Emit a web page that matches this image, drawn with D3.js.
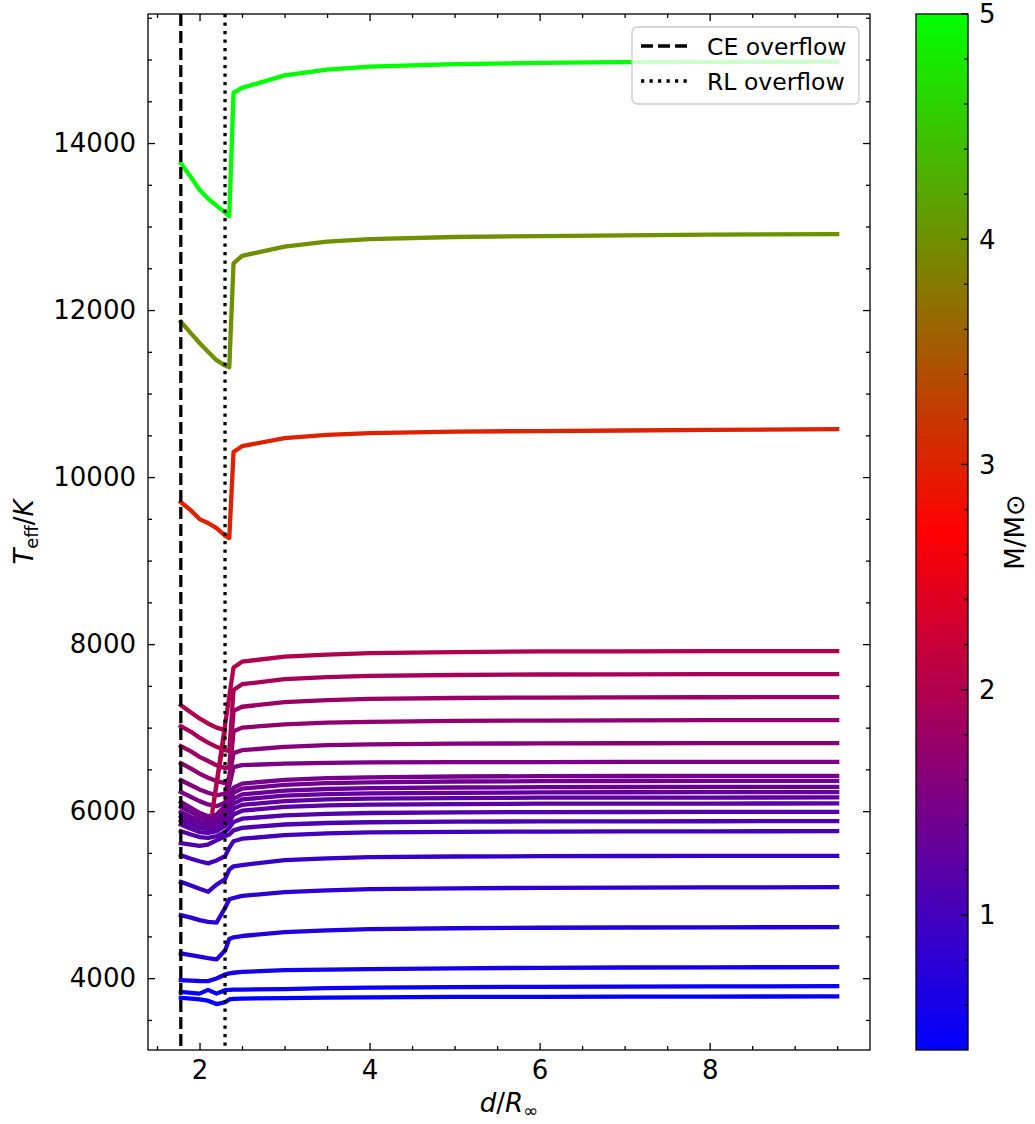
<!DOCTYPE html>
<html lang="en">
<head>
  <meta charset="UTF-8">
  <style>
    body { margin: 0; background: #fff; }
    svg { display: block; }
    text { font-family: "DejaVu Sans", sans-serif; fill: #000; }
    .axis path { display: none; }
    .axis line { stroke: #000; stroke-width: 1.3; }
  </style>
  <script src="https://d3js.org/d3.v7.min.js"></script>
</head>
<body>
<svg id="chart"></svg>
<script>
  // separation grid (d / R_inf) shared by most curves
  const dGrid = [1.78, 1.9, 2.0, 2.1, 2.2, 2.3, 2.35, 2.4, 2.5, 3.0, 3.5, 4.0, 5.0, 6.0, 7.0, 8.0, 9.5];
  // the 2.0 Msun curve has a point that steps back in d
  const dGridM2 = [1.78, 1.9, 2.0, 2.1, 2.2, 2.3, 2.15, 2.4, 2.5, 3.0, 3.5, 4.0, 5.0, 6.0, 7.0, 8.0, 9.5];

  const masses = [0.4, 0.5, 0.6, 0.7, 0.8, 0.9, 1.0, 1.1, 1.15, 1.2, 1.25, 1.3, 1.35, 1.4, 1.45,
                  1.5, 1.6, 1.7, 1.8, 1.9, 2.0, 3.0, 4.0, 5.0];

  const teff = [
    [3764, 3755, 3745, 3730, 3690, 3712, 3745, 3752, 3756, 3762, 3768, 3771, 3775, 3777, 3779, 3780, 3781],
    [3836, 3825, 3815, 3860, 3815, 3856, 3860, 3862, 3864, 3870, 3880, 3886, 3893, 3897, 3900, 3902, 3904],
    [3976, 3970, 3966, 3965, 3996, 4044, 4058, 4065, 4075, 4096, 4103, 4108, 4118, 4124, 4128, 4130, 4132],
    [4296, 4275, 4258, 4240, 4225, 4330, 4470, 4490, 4505, 4551, 4572, 4587, 4598, 4604, 4607, 4609, 4611],
    [4754, 4725, 4695, 4675, 4665, 4840, 4945, 4960, 4985, 5030, 5052, 5066, 5076, 5082, 5085, 5087, 5090],
    [5153, 5110, 5070, 5034, 5120, 5185, 5300, 5340, 5355, 5413, 5435, 5449, 5457, 5461, 5463, 5464, 5465],
    [5473, 5430, 5400, 5375, 5410, 5460, 5560, 5640, 5670, 5712, 5735, 5745, 5753, 5756, 5758, 5759, 5760],
    [5617, 5600, 5585, 5600, 5650, 5700, 5720, 5770, 5800, 5840, 5858, 5867, 5874, 5877, 5878, 5879, 5880],
    [5760, 5720, 5690, 5680, 5700, 5750, 5800, 5870, 5910, 5950, 5968, 5978, 5985, 5989, 5990, 5991, 5992],
    [5840, 5790, 5750, 5740, 5760, 5820, 5880, 5960, 6005, 6050, 6068, 6078, 6085, 6089, 6090, 6091, 6092],
    [5890, 5840, 5800, 5785, 5800, 5870, 5940, 6030, 6075, 6120, 6140, 6150, 6157, 6161, 6162, 6163, 6164],
    [5940, 5880, 5840, 5820, 5840, 5920, 6000, 6090, 6140, 6185, 6205, 6213, 6220, 6224, 6226, 6227, 6228],
    [5990, 5930, 5880, 5860, 5880, 5960, 6060, 6150, 6200, 6245, 6265, 6275, 6283, 6287, 6289, 6290, 6291],
    [6050, 5990, 5930, 5900, 5920, 6010, 6120, 6220, 6270, 6315, 6335, 6345, 6355, 6359, 6361, 6362, 6363],
    [6110, 6040, 5980, 5940, 5960, 6060, 6180, 6280, 6330, 6375, 6395, 6405, 6415, 6419, 6421, 6422, 6423],
    [6230, 6170, 6120, 6080, 6060, 6100, 6300, 6527, 6550, 6570, 6578, 6583, 6587, 6588, 6589, 6590, 6590],
    [6371, 6310, 6260, 6220, 6190, 6210, 6400, 6695, 6730, 6770, 6790, 6800, 6808, 6811, 6813, 6814, 6814],
    [6575, 6510, 6450, 6400, 6360, 6335, 6400, 6958, 7000, 7040, 7060, 7070, 7080, 7085, 7088, 7089, 7090],
    [6778, 6715, 6650, 6600, 6550, 6515, 6530, 7200, 7250, 7305, 7330, 7345, 7355, 7360, 7362, 7364, 7365],
    [7018, 6950, 6880, 6820, 6770, 6730, 6720, 7450, 7520, 7580, 7605, 7620, 7630, 7636, 7638, 7640, 7641],
    [7269, 7180, 7110, 7050, 7000, 6970, 5990, 7720, 7790, 7850, 7875, 7892, 7905, 7912, 7914, 7915, 7916],
    [9700, 9600, 9497, 9450, 9390, 9300, 9269, 10300, 10370, 10467, 10505, 10527, 10545, 10551, 10558, 10565, 10575],
    [11860, 11720, 11605, 11500, 11400, 11335, 11314, 12560, 12650, 12760, 12820, 12850, 12875, 12886, 12895, 12903, 12910],
    [13757, 13590, 13440, 13335, 13250, 13170, 13126, 14600, 14660, 14810, 14880, 14915, 14945, 14960, 14968, 14972, 14975]
  ];

  const ceOverflow = 1.78;
  const rlOverflow = 2.3;

  const xTicks = [2, 4, 6, 8];
  const yTicks = [4000, 6000, 8000, 10000, 12000, 14000];
  const cbTicks = [1, 2, 3, 4, 5];

  const W = 1035, H = 1124;
  const plot = { left: 148, right: 870, top: 14, bottom: 1050 };
  const cb = { left: 916, right: 968 };

  const svg = d3.select("#chart").attr("width", W).attr("height", H);

  const x = d3.scaleLinear().domain([1.394, 9.886]).range([plot.left, plot.right]);
  const y = d3.scaleLinear().domain([3140, 15545]).range([plot.bottom, plot.top]);
  const color = d3.scaleLinear().domain([0.4, 2.7, 5.0]).range(["#0000ff", "#ff0000", "#00ff00"]);
  const cbScale = d3.scaleLinear().domain([0.4, 5.0]).range([plot.bottom, plot.top]);

  svg.append("defs").append("clipPath").attr("id", "plotclip")
    .append("rect")
    .attr("x", plot.left).attr("y", plot.top)
    .attr("width", plot.right - plot.left).attr("height", plot.bottom - plot.top);

  // curves, low mass first so heavier ones sit on top
  const line = d3.line().x(d => x(d[0])).y(d => y(d[1]));
  const g = svg.append("g").attr("clip-path", "url(#plotclip)");
  masses.forEach((m, i) => {
    const grid = m === 2.0 ? dGridM2 : dGrid;
    const pts = grid.map((d, j) => [d, teff[i][j]]);
    g.append("path")
      .attr("d", line(pts))
      .attr("fill", "none")
      .attr("stroke", color(m))
      .attr("stroke-width", 4.3)
      .attr("stroke-linejoin", "round")
      .attr("stroke-linecap", "square");
  });

  // overflow markers
  g.append("line")
    .attr("x1", x(ceOverflow)).attr("x2", x(ceOverflow))
    .attr("y1", plot.top).attr("y2", plot.bottom)
    .attr("stroke", "#000").attr("stroke-width", 3.3)
    .attr("stroke-dasharray", "12,5");
  g.append("line")
    .attr("x1", x(rlOverflow)).attr("x2", x(rlOverflow))
    .attr("y1", plot.top).attr("y2", plot.bottom)
    .attr("stroke", "#000").attr("stroke-width", 3.3)
    .attr("stroke-dasharray", "3.3,5.2");

  // axes, ticks pointing inwards on all four sides
  const xMinor = d3.range(1.5, 9.51, 0.5).filter(v => !xTicks.includes(v));
  const yMinor = d3.range(3500, 15501, 500).filter(v => !yTicks.includes(v));
  const fmt = d3.format("d");

  function addAxis(gen, tx, ty, values, size, labels) {
    const a = svg.append("g").attr("class", "axis").attr("transform", `translate(${tx},${ty})`);
    gen.tickValues(values).tickSize(-size).tickFormat(labels ? fmt : "");
    a.call(gen);
    a.selectAll("text").attr("font-size", 26).attr("font-family", "DejaVu Sans").attr("fill", "#000");
    return a;
  }

  addAxis(d3.axisBottom(x).tickPadding(11), 0, plot.bottom, xTicks, 7, true);
  addAxis(d3.axisBottom(x), 0, plot.bottom, xMinor, 4, false);
  addAxis(d3.axisTop(x), 0, plot.top, xTicks, 7, false);
  addAxis(d3.axisTop(x), 0, plot.top, xMinor, 4, false);
  addAxis(d3.axisLeft(y).tickPadding(12), plot.left, 0, yTicks, 7, true);
  addAxis(d3.axisLeft(y), plot.left, 0, yMinor, 4, false);
  addAxis(d3.axisRight(y), plot.right, 0, yTicks, 7, false);
  addAxis(d3.axisRight(y), plot.right, 0, yMinor, 4, false);

  svg.append("rect")
    .attr("x", plot.left).attr("y", plot.top)
    .attr("width", plot.right - plot.left).attr("height", plot.bottom - plot.top)
    .attr("fill", "none").attr("stroke", "#000").attr("stroke-width", 1.3);

  // axis labels
  const xl = svg.append("text")
    .attr("x", (plot.left + plot.right) / 2).attr("y", 1112)
    .attr("text-anchor", "middle").attr("font-size", 26);
  xl.append("tspan").attr("font-style", "italic").text("d");
  xl.append("tspan").text("/");
  xl.append("tspan").attr("font-style", "italic").text("R");
  xl.append("tspan").attr("font-size", 18).attr("dy", 5).text("∞");

  const yl = svg.append("text")
    .attr("transform", `translate(33,${(plot.top + plot.bottom) / 2}) rotate(-90)`)
    .attr("text-anchor", "middle").attr("font-size", 26);
  yl.append("tspan").attr("font-style", "italic").text("T");
  yl.append("tspan").attr("font-size", 18).attr("dy", 5).text("eff");
  yl.append("tspan").attr("dy", -5).text("/");
  yl.append("tspan").attr("font-style", "italic").text("K");

  // legend
  const lg = svg.append("g");
  lg.append("rect")
    .attr("x", 632).attr("y", 27).attr("width", 227).attr("height", 77).attr("rx", 5)
    .attr("fill", "#fff").attr("fill-opacity", 0.8)
    .attr("stroke", "#cccccc").attr("stroke-width", 1.3);
  const legendItems = [
    { label: "CE overflow", dash: "12,5" },
    { label: "RL overflow", dash: "3.3,5.2" }
  ];
  legendItems.forEach((it, i) => {
    const cy = 46 + i * 35;
    lg.append("line")
      .attr("x1", 641).attr("x2", 688).attr("y1", cy).attr("y2", cy)
      .attr("stroke", "#000").attr("stroke-width", 3.3).attr("stroke-dasharray", it.dash);
    lg.append("text").attr("x", 707).attr("y", cy + 8.5).attr("font-size", 23.5).text(it.label);
  });

  // colorbar
  const grad = svg.select("defs").append("linearGradient")
    .attr("id", "cbgrad").attr("x1", 0).attr("y1", 1).attr("x2", 0).attr("y2", 0);
  [0.4, 2.7, 5.0].forEach(v => {
    grad.append("stop")
      .attr("offset", (v - 0.4) / 4.6)
      .attr("stop-color", color(v));
  });
  svg.append("rect")
    .attr("x", cb.left).attr("y", plot.top)
    .attr("width", cb.right - cb.left).attr("height", plot.bottom - plot.top)
    .attr("fill", "url(#cbgrad)").attr("stroke", "#000").attr("stroke-width", 1.3);

  const cbMinor = d3.range(0.6, 4.81, 0.2).filter(v => Math.abs(v - Math.round(v)) > 0.01);
  const cbAx = svg.append("g").attr("class", "axis").attr("transform", `translate(${cb.right},0)`);
  cbAx.selectAll(".maj").data(cbTicks).join("line").attr("class", "maj")
    .attr("x1", -7).attr("x2", 0).attr("y1", d => cbScale(d)).attr("y2", d => cbScale(d));
  cbAx.selectAll(".mnr").data(cbMinor).join("line").attr("class", "mnr")
    .attr("x1", -4).attr("x2", 0).attr("y1", d => cbScale(d)).attr("y2", d => cbScale(d));
  cbAx.selectAll("text").data(cbTicks).join("text")
    .attr("x", 11).attr("y", d => cbScale(d)).attr("dy", "0.36em")
    .attr("font-size", 26).text(d => d);

  svg.append("text")
    .attr("transform", `translate(1024,${(plot.top + plot.bottom) / 2}) rotate(-90)`)
    .attr("text-anchor", "middle").attr("font-size", 26).text("M/M⊙");
</script>
</body>
</html>
